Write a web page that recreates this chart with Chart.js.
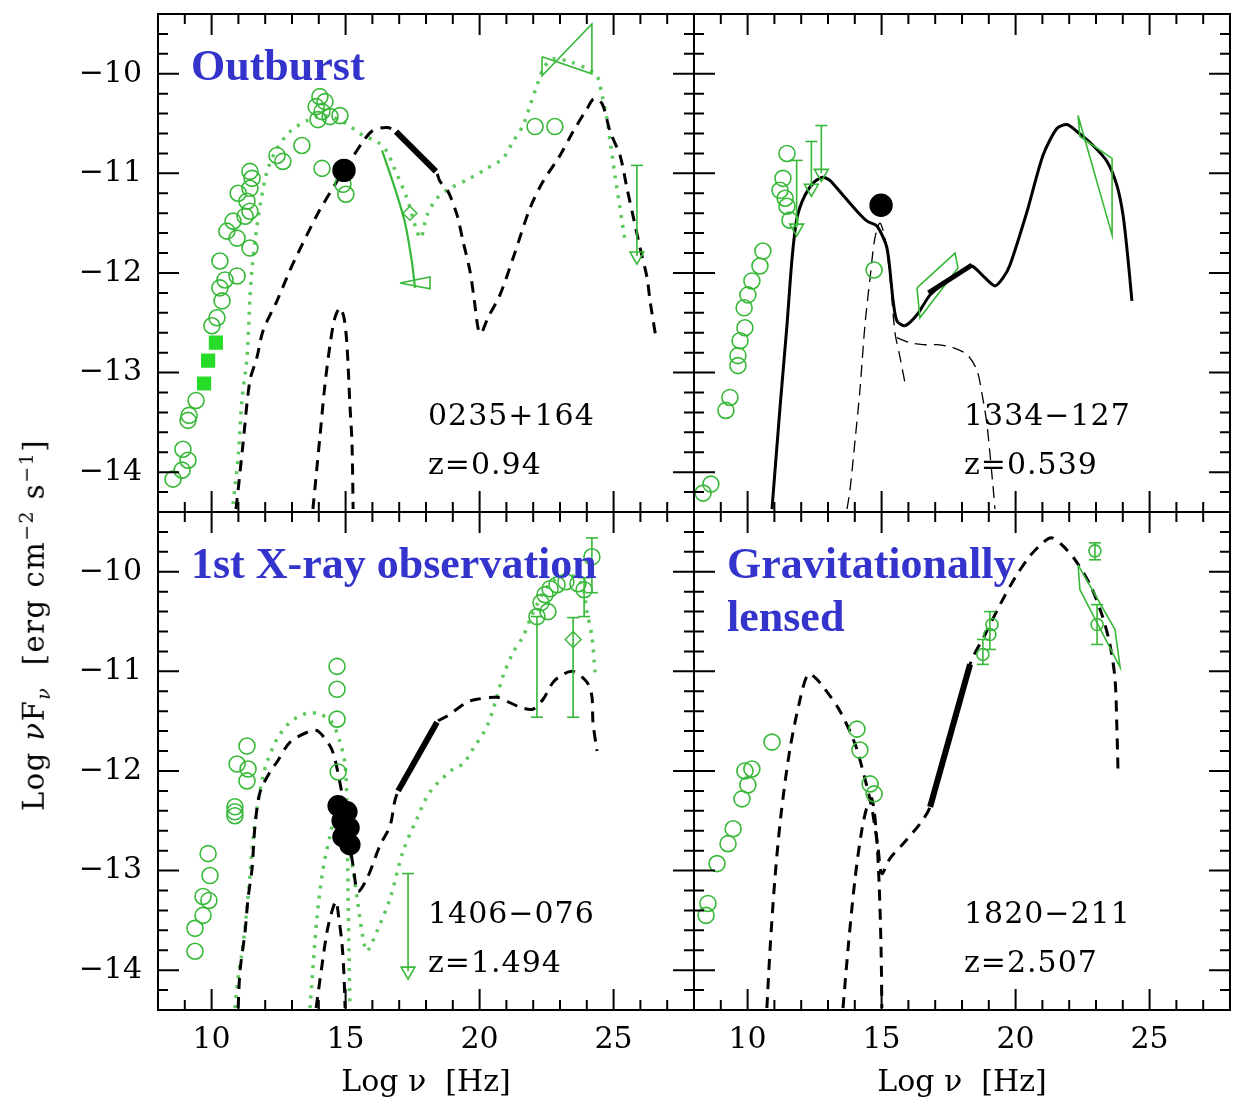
<!DOCTYPE html>
<html>
<head>
<meta charset="utf-8">
<title>SED panels</title>
<script src="https://cdn.jsdelivr.net/npm/chart.js@4.4.1/dist/chart.umd.min.js"></script>
<style>
  html, body { margin: 0; padding: 0; background: #fff; }
  #wrap { position: relative; width: 1236px; height: 1111px; overflow: hidden; background: #fff; }
  #wrap canvas { position: absolute; left: 0; top: 0; }
  #ytitle { position: absolute; left: 35px; top: 625px; transform: translate(-50%, -50%) rotate(-90deg);
            white-space: nowrap; font: 29px "DejaVu Serif"; letter-spacing: 1.5px; color: #000; line-height: 1; }
  #ytitle sup, #ytitle sub { font-size: 19px; }
</style>
</head>
<body>
<div id="wrap">
  <canvas id="c1" width="1236" height="1111"></canvas>
  <canvas id="c2" width="1236" height="1111"></canvas>
  <canvas id="c3" width="1236" height="1111"></canvas>
  <canvas id="c4" width="1236" height="1111"></canvas>
  <div id="ytitle">Log <i>ν</i>F<sub><i>ν</i></sub>&nbsp; [erg cm<sup>−2</sup> s<sup>−1</sup>]</div>
</div>
<script>
// axes (log nu, log nuFnu)
const X_MIN = 8, X_MAX = 28;
const Y_MIN = -14.4, Y_MAX = -9.4;
const xTickLabels = [10, 15, 20, 25];
const yTickLabels = [-14, -13, -12, -11, -10];

// ---- 0235+164 (outburst) ----
const p1Radio = [[8.56,-14.07],[8.90,-13.98],[9.12,-13.88],[8.93,-13.77],[9.12,-13.48],[9.16,-13.43],[9.42,-13.28],
  [10.01,-12.53],[10.20,-12.45],[10.39,-12.28],[10.31,-12.15],[10.50,-12.07],[10.95,-12.03],[10.31,-11.88],
  [10.57,-11.58],[10.95,-11.65],[11.43,-11.75],[10.80,-11.48],[11.25,-11.43],[11.43,-11.38],[11.32,-11.28],
  [10.99,-11.20],[11.43,-11.15],[11.51,-11.05],[11.43,-10.98],[12.44,-10.82],[12.66,-10.88],[13.37,-10.72],
  [14.12,-10.95],[14.04,-10.23],[14.23,-10.28],[13.90,-10.33],[14.12,-10.38],[14.42,-10.43],[13.97,-10.46],
  [14.79,-10.42],[14.90,-11.11],[15.01,-11.21],[22.07,-10.53],[22.81,-10.53]];
const p1Squares = [[9.72,-13.11],[9.87,-12.88],[10.16,-12.70]];
const p1Optical = [[14.94,-10.97]];
const p1Diamond = [[17.40,-11.40]];
const p1OptSlope = [[16.36,-10.77],[16.84,-11.15],[17.22,-11.50],[17.48,-11.90],[17.59,-12.15]];
const p1XWedge = [[17.03,-12.10],[18.15,-12.04],[18.15,-12.16],[17.03,-12.10]];
const p1XBand = [[16.88,-10.58],[18.37,-10.98]];
const p1GammaBow = [[22.33,-9.83],[24.19,-10.00],[24.19,-9.50],[22.33,-10.02],[22.33,-9.83]];
const p1Limits = [[25.87,-10.92,-11.83]];
const p1Model = [[10.91,-14.37],[10.99,-14.18],[11.17,-13.72],[11.43,-13.08],[11.69,-12.85],[11.92,-12.58],
  [12.44,-12.28],[12.93,-11.97],[13.19,-11.82],[13.97,-11.40],[14.68,-11.08],[15.16,-10.88],[15.65,-10.68],
  [16.02,-10.57],[16.54,-10.54],[16.88,-10.58],[17.60,-10.78],[18.37,-10.98],[18.52,-11.08],[18.82,-11.18],
  [19.16,-11.42],[19.38,-11.68],[19.64,-11.98],[19.79,-12.25],[19.94,-12.55],[20.05,-12.61],[20.31,-12.45],
  [20.76,-12.22],[21.25,-11.85],[21.88,-11.35],[22.37,-11.08],[23.00,-10.82],[23.49,-10.58],[24.01,-10.35],
  [24.27,-10.25],[24.57,-10.30],[24.87,-10.58],[25.24,-10.82],[25.50,-11.15],[25.72,-11.42],[25.99,-11.75],
  [26.25,-12.05],[26.36,-12.28],[26.58,-12.65]];
const p1Disk = [[13.78,-14.37],[14.04,-13.65],[14.23,-13.12],[14.42,-12.72],[14.60,-12.45],[14.79,-12.35],
  [14.94,-12.45],[15.05,-12.72],[15.16,-13.32],[15.24,-13.72],[15.28,-14.37]];
const p1ModelLow = [[10.80,-14.32],[10.99,-13.85],[11.13,-13.28],[11.32,-12.85],[11.43,-12.25],[11.51,-11.95],
  [11.62,-11.68],[11.81,-11.32],[12.07,-10.98],[12.44,-10.75],[12.93,-10.58],[13.56,-10.47],[14.16,-10.42],
  [14.90,-10.48],[15.65,-10.62],[16.17,-10.68],[16.54,-10.78],[16.77,-10.92],[17.29,-11.25],[17.66,-11.58],
  [17.81,-11.65],[18.04,-11.42],[18.41,-11.25],[18.90,-11.15],[19.64,-11.05],[20.28,-10.95],[20.87,-10.85],
  [21.25,-10.68],[21.62,-10.52],[21.88,-10.32],[22.14,-10.12],[22.37,-9.95],[22.74,-9.85],[23.37,-9.88],
  [24.01,-9.95],[24.38,-10.02],[24.57,-10.22],[24.75,-10.45],[24.87,-10.68],[25.05,-11.02],[25.24,-11.35],
  [25.43,-11.68]];

// ---- 1334-127 ----
const p2Radio = [[11.47,-10.80],[11.32,-11.05],[11.21,-11.17],[11.40,-11.25],[11.47,-11.33],[11.58,-11.47],
  [10.57,-11.78],[10.46,-11.93],[10.16,-12.08],[10.01,-12.22],[9.87,-12.35],[9.90,-12.55],[9.72,-12.68],
  [9.64,-12.83],[9.64,-12.93],[9.34,-13.25],[9.19,-13.38],[8.63,-14.12],[8.34,-14.21],[14.72,-11.97]];
const p2Optical = [[14.98,-11.32]];
const p2Limits = [[11.83,-10.87,-11.55],[12.38,-10.68,-11.15],[12.75,-10.52,-11.00]];
const p2XBow = [[16.32,-12.15],[17.74,-11.80],[17.85,-11.95],[16.43,-12.45],[16.32,-12.15]];
const p2XBand = [[16.75,-12.20],[18.37,-11.92]];
const p2GammaBow = [[22.33,-10.42],[23.60,-11.62],[23.60,-10.85],[22.40,-10.63],[22.33,-10.42]];
const p2Model = [[10.91,-14.37],[11.21,-13.35],[11.47,-12.52],[11.66,-11.85],[11.84,-11.45],[12.14,-11.22],
  [12.51,-11.08],[12.81,-11.04],[13.07,-11.07],[13.56,-11.22],[14.08,-11.38],[14.46,-11.48],[14.83,-11.53],
  [15.20,-11.75],[15.43,-12.28],[15.57,-12.48],[15.87,-12.53],[16.32,-12.42],[16.81,-12.22],[17.44,-12.08],
  [18.04,-11.98],[18.37,-11.93],[18.86,-12.05],[19.23,-12.13],[19.53,-12.05],[19.79,-11.92],[20.43,-11.38],
  [21.02,-10.82],[21.54,-10.55],[21.92,-10.51],[22.29,-10.58],[22.89,-10.72],[23.41,-10.88],[23.78,-11.12],
  [24.01,-11.42],[24.19,-11.85],[24.34,-12.28]];
const p2Disk = [[13.71,-14.37],[13.82,-14.18],[14.01,-13.68],[14.19,-13.18],[14.38,-12.52],[14.57,-12.05],
  [14.75,-11.65],[14.94,-11.50],[15.16,-11.70],[15.35,-12.15],[15.50,-12.60],[15.69,-12.85],[15.87,-13.10]];
const p2Compton = [[15.57,-12.65],[16.06,-12.70],[16.54,-12.72],[17.07,-12.72],[17.66,-12.75],[18.19,-12.82],
  [18.56,-12.98],[18.75,-13.22],[18.93,-13.52],[19.16,-14.15],[19.23,-14.37]];

// ---- 1406-076 (1st X-ray observation) ----
const p3Radio = [[11.32,-11.75],[10.95,-11.93],[11.36,-11.98],[11.32,-12.10],[10.87,-12.36],[10.87,-12.41],
  [10.87,-12.45],[9.87,-12.83],[9.94,-13.05],[9.68,-13.26],[9.90,-13.30],[9.68,-13.45],[9.38,-13.58],
  [9.38,-13.81],[14.68,-10.95],[14.68,-11.18],[14.68,-11.48],[14.72,-12.01]];
const p3Optical = [[14.72,-12.35],[15.05,-12.41],[14.87,-12.50],[15.13,-12.57],[14.90,-12.66],[15.16,-12.74]];
const p3Gamma = [[22.14,-10.45],[22.29,-10.31],[22.44,-10.23],[22.55,-10.40],[22.63,-10.17],[22.89,-10.13],
  [23.22,-10.10],[23.67,-10.12],[23.90,-10.18],[24.19,-9.85]];
const p3GammaErr = [[22.14,-10.45,-11.46],[23.90,-10.06,-10.45],[24.19,-9.66,-10.21],[23.49,-10.46,-11.46]];
const p3Diamond = [[23.49,-10.68]];
const p3Limits = [[17.33,-13.03,-14.01]];
const p3XBand = [[16.96,-12.20],[18.41,-11.51]];
const p3Model = [[10.99,-14.38],[11.06,-14.01],[11.25,-13.61],[11.36,-13.28],[11.51,-12.98],[11.62,-12.55],
  [11.81,-12.21],[12.18,-12.01],[12.44,-11.91],[12.93,-11.71],[13.67,-11.60],[13.97,-11.60],[14.42,-11.75],
  [14.60,-11.88],[14.90,-12.28],[15.09,-12.63],[15.28,-12.95],[15.46,-13.21],[15.80,-13.08],[16.28,-12.75],
  [16.66,-12.55],[16.92,-12.23],[18.41,-11.51],[18.78,-11.45],[19.53,-11.31],[19.90,-11.28],[20.65,-11.26],
  [21.02,-11.30],[21.51,-11.36],[21.99,-11.38],[22.37,-11.28],[22.74,-11.11],[23.11,-11.03],[23.49,-11.00],
  [24.01,-11.11],[24.19,-11.25],[24.23,-11.51],[24.38,-11.80]];
const p3Disk = [[13.90,-14.38],[14.12,-13.95],[14.31,-13.61],[14.49,-13.41],[14.64,-13.31],[14.75,-13.48],
  [14.87,-13.75],[14.94,-14.05],[14.98,-14.38]];
const p3AltSync = [[10.87,-14.38],[10.99,-14.08],[11.17,-13.75],[11.32,-13.38],[11.43,-13.05],[11.54,-12.71],
  [11.69,-12.38],[11.92,-12.05],[12.07,-11.91],[12.44,-11.68],[12.93,-11.51],[13.56,-11.42],[14.04,-11.43],
  [14.49,-11.51],[14.79,-11.71],[14.98,-11.93],[15.05,-12.35],[15.09,-13.21],[15.13,-13.88],[15.16,-14.38]];
const p3AltIC = [[13.67,-14.38],[13.93,-13.48],[14.16,-12.98],[14.42,-12.65],[14.68,-12.38],[14.98,-12.58],
  [15.24,-12.93],[15.43,-13.28],[15.65,-13.68],[15.80,-13.81],[16.17,-13.61],[16.66,-13.28],[17.14,-12.81],
  [17.66,-12.48],[18.15,-12.21],[19.01,-11.98],[19.38,-11.93],[19.75,-11.78],[20.28,-11.55],[20.65,-11.25],
  [20.87,-11.05],[21.25,-10.81],[21.62,-10.65],[21.88,-10.48],[22.14,-10.33],[22.44,-10.18],[22.81,-10.08],
  [23.37,-10.03],[23.82,-10.13],[24.01,-10.41],[24.19,-10.65],[24.31,-11.01]];

// ---- 1820-211 (gravitationally lensed) ----
const p4Radio = [[8.52,-13.33],[8.45,-13.45],[8.86,-12.93],[9.27,-12.73],[9.46,-12.58],[9.79,-12.28],
  [10.01,-12.14],[9.90,-12.00],[10.16,-11.98],[10.91,-11.71],[14.08,-11.58],[14.19,-11.79],[14.57,-12.13],
  [14.72,-12.23]];
const p4XPoints = [[18.78,-10.83],[19.04,-10.63],[19.12,-10.53]];
const p4XErr = [[18.78,-10.68,-10.93],[19.04,-10.40,-10.78]];
const p4Gamma = [[22.96,-9.79],[23.04,-10.53]];
const p4GammaErr = [[22.96,-9.71,-9.88],[23.04,-10.33,-10.73]];
const p4GammaBow = [[22.33,-9.93],[23.71,-10.58],[23.90,-10.96],[22.40,-10.18],[22.33,-9.93]];
const p4XBand = [[16.81,-12.36],[18.30,-10.93]];
const p4Model = [[10.72,-14.38],[10.84,-13.78],[11.02,-13.08],[11.25,-12.43],[11.58,-11.78],[11.96,-11.28],
  [12.25,-11.03],[12.51,-11.06],[12.89,-11.18],[13.45,-11.40],[14.01,-11.73],[14.38,-12.08],[14.64,-12.38],
  [14.87,-12.78],[15.01,-13.03],[15.31,-12.88],[15.87,-12.71],[16.43,-12.53],[16.81,-12.36],[18.30,-10.93],
  [18.86,-10.63],[19.42,-10.33],[19.98,-10.06],[20.54,-9.84],[21.10,-9.69],[21.36,-9.66],[21.73,-9.73],
  [22.22,-9.88],[22.78,-10.13],[23.22,-10.43],[23.52,-10.73],[23.71,-11.08],[23.78,-11.58],[23.82,-11.98]];
const p4Disk = [[13.56,-14.38],[13.75,-13.78],[14.01,-13.08],[14.27,-12.58],[14.49,-12.33],[14.64,-12.28],
  [14.79,-12.58],[14.90,-13.08],[14.98,-13.78],[15.01,-14.38]];

const GREEN = '#38b838';
const GREEN_DOTS = '#5ec85e';
const GREEN_FILL = '#27dc27';
const BLUE = '#3434cc';
const FONT = 'DejaVu Serif';

const xy = a => a.map(([x, y]) => ({ x, y }));

function circles(a, r) {
  return { data: xy(a), showLine: false, pointStyle: 'circle', pointRadius: r || 8,
    borderColor: GREEN, backgroundColor: 'rgba(0,0,0,0)', borderWidth: 1.6 };
}
function marks(a, style, r, color, fillColor) {
  return { data: xy(a), showLine: false, pointStyle: style, pointRadius: r,
    borderColor: color, backgroundColor: fillColor || color, borderWidth: 1.4 };
}
function curve(a, color, width, dash, tension) {
  return { data: xy(a), showLine: true, pointRadius: 0, borderColor: color, borderWidth: width,
    borderDash: dash || [], tension: tension === undefined ? 0.3 : tension, fill: false };
}
// vertical bar: cap on top, cap or arrow head at the bottom
function bars(list, arrow) {
  return list.map(([x, y1, y2]) => ({
    data: xy([[x, y1], [x, y2]]), showLine: true, borderColor: GREEN, borderWidth: 1.6, tension: 0,
    pointStyle: ['line', arrow ? 'triangle' : 'line'], pointRotation: [0, arrow ? 180 : 0],
    pointRadius: [6, arrow ? 8 : 6], pointBorderColor: GREEN, pointBackgroundColor: 'rgba(0,0,0,0)',
    pointBorderWidth: 1.6
  }));
}

const DASH = [11, 8];
const DOTS = [3, 7];
const CLEAR = 'rgba(0,0,0,0)';

const panels = [
  { id: 'c1', left: 158, top: 14, xLabels: false, yLabels: true,
    name: '0235+164', z: 'z=0.94', tags: ['Outburst'],
    datasets: [
      marks(p1Optical, 'circle', 11, '#000'),
      curve(p1XBand, '#000', 6, [], 0),
      marks(p1Squares, 'rect', 9, GREEN_FILL),
      circles(p1Radio),
      marks(p1Diamond, 'rectRot', 7, GREEN, CLEAR),
      curve(p1OptSlope, GREEN, 2.2),
      curve(p1XWedge, GREEN, 1.6, [], 0),
      curve(p1GammaBow, GREEN, 1.6, [], 0),
      ...bars(p1Limits, true),
      curve(p1Model, '#000', 3, DASH),
      curve(p1Disk, '#000', 3, DASH),
      curve(p1ModelLow, GREEN_DOTS, 3.5, DOTS)
    ] },
  { id: 'c2', left: 694, top: 14, xLabels: false, yLabels: false,
    name: '1334−127', z: 'z=0.539', tags: [],
    datasets: [
      marks(p2Optical, 'circle', 11, '#000'),
      curve(p2XBand, '#000', 5, [], 0),
      circles(p2Radio),
      ...bars(p2Limits, true),
      curve(p2XBow, GREEN, 1.6, [], 0),
      curve(p2GammaBow, GREEN, 1.6, [], 0),
      curve(p2Model, '#000', 3, [], 0.25),
      curve(p2Disk, '#000', 1.3, [12, 7]),
      curve(p2Compton, '#000', 1.3, [12, 7])
    ] },
  { id: 'c3', left: 158, top: 512, xLabels: true, yLabels: true,
    name: '1406−076', z: 'z=1.494', tags: ['1st X-ray observation'],
    datasets: [
      marks(p3Optical, 'circle', 10, '#000'),
      curve(p3XBand, '#000', 6, [], 0),
      circles(p3Radio),
      circles(p3Gamma),
      marks(p3Diamond, 'rectRot', 8, GREEN, CLEAR),
      ...bars(p3GammaErr, false),
      ...bars(p3Limits, true),
      curve(p3Model, '#000', 3, DASH),
      curve(p3Disk, '#000', 3, DASH),
      curve(p3AltSync, GREEN_DOTS, 3.5, DOTS),
      curve(p3AltIC, GREEN_DOTS, 3.5, DOTS)
    ] },
  { id: 'c4', left: 694, top: 512, xLabels: true, yLabels: false,
    name: '1820−211', z: 'z=2.507', tags: ['Gravitationally', 'lensed'],
    datasets: [
      curve(p4XBand, '#000', 6, [], 0),
      circles(p4Radio),
      circles(p4XPoints, 6),
      circles(p4Gamma, 6),
      ...bars(p4XErr, false),
      ...bars(p4GammaErr, false),
      curve(p4GammaBow, GREEN, 1.6, [], 0),
      curve(p4Model, '#000', 3, DASH),
      curve(p4Disk, '#000', 3, DASH)
    ] }
];

// frame, inward ticks, source names and labels
const sedFrame = {
  id: 'sedFrame',
  afterDraw(chart, args, opts) {
    const { ctx, chartArea: a } = chart;
    const xs = chart.scales.x, ys = chart.scales.y;
    ctx.save();
    ctx.strokeStyle = '#000';
    ctx.lineWidth = 2;
    ctx.beginPath();
    for (let v = X_MIN + 1; v < X_MAX; v++) {
      const px = xs.getPixelForValue(v);
      const len = v % 5 === 0 ? 21 : 10;
      ctx.moveTo(px, a.top); ctx.lineTo(px, a.top + len);
      ctx.moveTo(px, a.bottom); ctx.lineTo(px, a.bottom - len);
    }
    for (let i = 1; i < 25; i++) {
      const v = Y_MIN + i * 0.2;
      const py = ys.getPixelForValue(v);
      const len = Math.abs(v - Math.round(v)) < 1e-6 ? 21 : 10;
      ctx.moveTo(a.left, py); ctx.lineTo(a.left + len, py);
      ctx.moveTo(a.right, py); ctx.lineTo(a.right - len, py);
    }
    ctx.stroke();
    ctx.strokeRect(a.left, a.top, a.width, a.height);

    ctx.fillStyle = '#000';
    ctx.font = '30px "' + FONT + '"';
    ctx.letterSpacing = '1px';
    ctx.textAlign = 'left';
    ctx.textBaseline = 'alphabetic';
    ctx.fillText(opts.name, a.left + 270, a.top + 411);
    ctx.fillText(opts.z, a.left + 270, a.top + 460);

    ctx.letterSpacing = '0px';
    ctx.fillStyle = BLUE;
    ctx.font = 'bold 44px "Liberation Serif"';
    opts.tags.forEach((t, i) => ctx.fillText(t, a.left + 33, a.top + 66 + i * 53));
    ctx.restore();
  }
};

// fixed axis boxes, no extra room asked for by the edge labels
function fixBox(s, size) {
  if (s.isHorizontal()) s.height = size; else s.width = size;
  s.paddingTop = 0; s.paddingBottom = 0; s.paddingLeft = 0; s.paddingRight = 0;
}

function makeChart(p) {
  new Chart(document.getElementById(p.id), {
    type: 'scatter',
    data: { datasets: p.datasets },
    options: {
      responsive: false,
      animation: false,
      events: [],
      layout: {
        autoPadding: false,
        padding: { left: p.left - 150, right: 1236 - p.left - 536, top: p.top, bottom: 1111 - p.top - 498 - 100 }
      },
      scales: {
        x: {
          type: 'linear', min: X_MIN, max: X_MAX,
          afterBuildTicks: s => { s.ticks = xTickLabels.map(value => ({ value })); },
          afterFit: s => fixBox(s, 100),
          grid: { display: false, drawTicks: false },
          border: { display: false },
          ticks: { display: p.xLabels, padding: 12, color: '#000', font: { family: FONT, size: 30 },
                   callback: v => String(v) },
          title: { display: p.xLabels, text: 'Log ν  [Hz]', color: '#000', font: { family: FONT, size: 30 },
                   padding: { top: 0, bottom: 9 } }
        },
        y: {
          type: 'linear', min: Y_MIN, max: Y_MAX,
          afterBuildTicks: s => { s.ticks = yTickLabels.map(value => ({ value })); },
          afterFit: s => fixBox(s, 150),
          grid: { display: false, drawTicks: false },
          border: { display: false },
          ticks: { display: p.yLabels, padding: 16, color: '#000', font: { family: FONT, size: 30 },
                   callback: v => '−' + Math.abs(v) }
        }
      },
      plugins: {
        legend: { display: false },
        tooltip: { enabled: false },
        sedFrame: { name: p.name, z: p.z, tags: p.tags }
      }
    },
    plugins: [sedFrame]
  });
}

panels.forEach(makeChart);
</script>
</body>
</html>
